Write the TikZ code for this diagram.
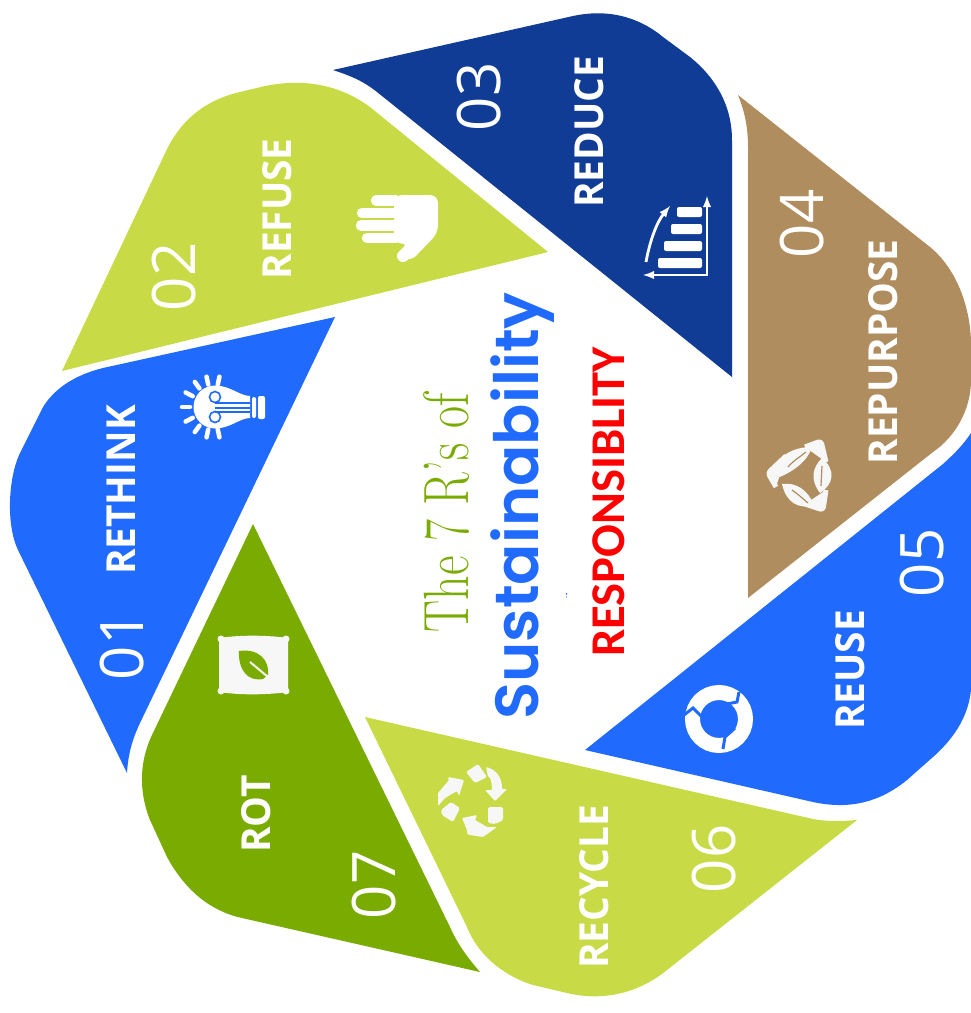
\documentclass[tikz,border=0pt]{standalone}
\usepackage{fontspec}
\usepackage{xcolor}
\usetikzlibrary{calc}
\newfontfamily\labelfont{Open Sans}
\newfontfamily\titlefont{Poppins SemiBold}
\newfontfamily\respfont{Carlito}
\definecolor{skyblue}{HTML}{206BFE}
\definecolor{navyblue}{HTML}{103C96}
\definecolor{limegreen}{HTML}{C8DB46}
\definecolor{tanbrown}{HTML}{B08D5E}
\definecolor{leafgreen}{HTML}{7AAB00}
\definecolor{iconwhite}{HTML}{F7F7F7}
\tikzset{
petal/.style={fill=#1,draw=none},
numtext/.style={rotate=90,anchor=base,white,inner sep=0pt,font={\labelfont\fontsize{60pt}{60pt}\selectfont}},
rtext/.style={rotate=90,xscale=.97,anchor=base,white,inner sep=0pt,font={\labelfont\bfseries\fontsize{40pt}{40pt}\selectfont}},
iconpart/.style={fill=iconwhite,draw=iconwhite,line width=1pt,line join=round},
iconstroke/.style={draw=white,line cap=round,line width=#1}
}
\begin{document}
\begin{tikzpicture}[x=1pt,y=-1pt]
\useasboundingbox (0,0) rectangle (971,1013);

% petals
\fill[petal=skyblue] (335,317) -- (103,368) .. controls (75,375) and (55,388) .. (43,407) -- (20,453) .. controls (8,478) and (6,525) .. (18,550) -- (127,773) .. controls (128,755) and (132,740) .. (140,723) -- cycle;
\fill[petal=limegreen] (548,252) -- (62,371) -- (168,147) .. controls (185,115) and (210,99) .. (240,92) -- (265,86) .. controls (305,78) and (340,85) .. (370,107) -- cycle;
\fill[petal=navyblue] (333,70) -- (573,16) .. controls (615,7) and (645,22) .. (663,37) -- (690,57) .. controls (715,77) and (732,105) .. (732,140) -- (732,377) -- (377,92) .. controls (362,80) and (348,75) .. (333,70);
\fill[petal=tanbrown] (738,95) -- (930,247) .. controls (958,270) and (971,310) .. (971,345) -- (971,380) .. controls (971,410) and (955,437) .. (933,452) -- (748,598) -- (748,147) .. controls (748,125) and (744,110) .. (738,95);
\fill[petal=skyblue] (585,750) -- (943,464) .. controls (955,453) and (963,445) .. (971,433) -- (971,690) .. controls (968,720) and (950,742) .. (933,757) -- (907,780) .. controls (880,802) and (850,810) .. (813,802) -- cycle;
\fill[petal=limegreen] (365,717) -- (813,819) .. controls (830,822) and (845,821) .. (857,820) -- (667,970) .. controls (640,992) and (605,1002) .. (567,993) -- (533,985) .. controls (510,978) and (480,960) .. (467,927) -- cycle;
\fill[petal=leafgreen] (253,524) -- (152,735) .. controls (140,760) and (138,790) .. (150,820) -- (167,857) .. controls (185,890) and (210,911) .. (242,918) -- (480,972) .. controls (468,958) and (458,945) .. (450,927) -- cycle;

% numbers and names
\foreach \n/\x/\y in {01/143/646,02/195/277,03/500/97,04/823/224,05/943/563,06/735/859,07/395/885}
\node[numtext] (num\n) at (\x,\y) {\n};
\foreach \t/\x/\y in {RETHINK/135/490,REFUSE/291/209,REDUCE/603/132,REPURPOSE/897/352,REUSE/864/670,RECYCLE/608/887,ROT/270/814}
\node[rtext] (name\t) at (\x,\y) {\t};

% middle
\node[rotate=90,xscale=.75,anchor=base,inner sep=0pt,text=leafgreen,font={\fontsize{64pt}{64pt}\selectfont}] (title) at (468,513) {The 7 R’s of};
\node[rotate=90,anchor=base,inner sep=0pt,text=skyblue,font={\titlefont\fontsize{61pt}{61pt}\selectfont}] (sustain) at (538,506) {Sustainability};
\node[rotate=90,anchor=base,inner sep=0pt,text=red,font={\respfont\bfseries\fontsize{48.5pt}{50pt}\selectfont}] (resp) at (624,502) {RESPONSIBLITY};
\fill[skyblue] (566.5,594) circle (.8) (566.5,597) circle (.6);

% bulb
\foreach \a in {78,102,126,152,180,208,234,258,282}
\draw[iconstroke=4.5pt] ($(213,407)+(\a:23)$) -- ($(213,407)+(\a:31)$);
\fill[white] (215,407) circle (21.5);
\fill[white] (215,385.5) .. controls (230,385.5) and (240,396) .. (250,396) -- (250,418) .. controls (240,418) and (230,428.5) .. (215,428.5) -- cycle;
\fill[white,rounded corners=2pt] (252,397) rectangle (256,418) (258,396) rectangle (265,419);
\draw[skyblue,line width=1.6pt] (215,397) circle (5.5) (215,417) circle (5.5) (215,403) -- (250,403) (215,408) -- (250,408) (215,412) -- (250,412);

% hand
\foreach \ya/\xa in {200.5/376,213/362,225.5/361,238/367}
\draw[iconstroke=10.5pt] (\xa,\ya) -- (396,\ya);
\fill[white,rounded corners=8pt] (394,195) -- (438,195) -- (438,233) -- (410,262) -- (397,252) -- (409,243.5) -- (394,243.5) -- cycle;
\draw[iconstroke=12pt] (403,256) -- (418,243);

% chart
\foreach \xa/\ya in {677/207,671/224,664/241,658/258}
\fill[white,rounded corners=2pt] (\xa,\ya) rectangle (702,\ya+10);
\draw[white,line width=2.8pt,latex-latex] (707,196) -- (707,275) -- (643,275);
\draw[white,line width=2.8pt,-latex] (646,262) .. controls (650,240) and (657,222) .. (670,206);

% three leaves
\draw[iconpart,line width=5pt,rounded corners=3pt] (805,447) -- (821,441) -- (826,462);
\draw[iconpart,line width=5pt,rounded corners=3pt] (826,490) -- (823,510) -- (805,504);
\draw[iconpart,line width=5pt,rounded corners=3pt] (776,487) -- (768,473) -- (786,456);
\fill[iconwhite] (770,474) .. controls (778,456) and (792,447) .. (812,447) .. controls (808,460) and (795,472) .. (772,480) -- cycle;
\fill[iconwhite] (822,458) .. controls (836,470) and (834,484) .. (820,493) .. controls (810,480) and (812,468) .. (822,458);
\fill[iconwhite] (782,484) .. controls (796,482) and (808,490) .. (814,505) .. controls (798,510) and (786,502) .. (782,484);
\draw[tanbrown,line width=1.2pt] (788,467) .. controls (794,460) and (800,457) .. (806,452) (822,466) -- (821,486) (792,490) .. controls (798,494) and (802,498) .. (808,503);

% reuse ring
\draw[white,line width=15pt] (719,719) circle (26.5);
\draw[skyblue,line width=3pt] (739,692) -- (737,702) -- (727,704) (684,715) -- (693,708) -- (702,717) (723,749) -- (725,737) -- (735,728);

% recycling pieces
\fill[iconwhite,rounded corners=1.5pt] (466,772) -- (478,764) -- (487,777) -- (475,783) -- cycle;
\fill[iconwhite,rounded corners=1pt] (486,767) .. controls (497,770) and (502,778) .. (502,789) -- (507,789) -- (495,801) -- (485,790) -- (492,790) .. controls (492,782) and (490,777) .. (488,777) -- cycle;
\fill[iconwhite,rounded corners=1.5pt] (488,807) -- (503,807) -- (503,820) -- (495,824) -- (488,823) -- cycle;
\fill[iconwhite,rounded corners=1pt] (497,827) -- (483,837) -- (470,835) -- (467,834) -- (467,830) -- (462,818) -- (477,815) -- (475,820) -- (487,827) -- cycle;
\fill[iconwhite,rounded corners=1.5pt] (451,802) -- (460,808) -- (453,822) -- (442,815) -- (441,810) -- cycle;
\fill[iconwhite,rounded corners=1pt] (438,806) -- (438,793) -- (449,780) -- (448,777) -- (464,780) -- (459,796) -- (457,791) -- (445,798) -- cycle;

% seed bag
\fill[iconwhite,rounded corners=2pt] (219,638) .. controls (240,635) and (265,635) .. (288,638) -- (288,692) .. controls (265,695) and (240,695) .. (219,692) -- cycle;
\foreach \xa/\ya in {221/639,286/639,221/691,286/691}
\fill[iconwhite] (\xa,\ya) circle (3.5);
\fill[leafgreen] (239,651) .. controls (258,648) and (270,660) .. (268,675) -- (263,679) .. controls (248,682) and (238,670) .. (239,651);
\draw[iconwhite,line width=2pt] (250,662) -- (268,677);
\end{tikzpicture}
\end{document}
